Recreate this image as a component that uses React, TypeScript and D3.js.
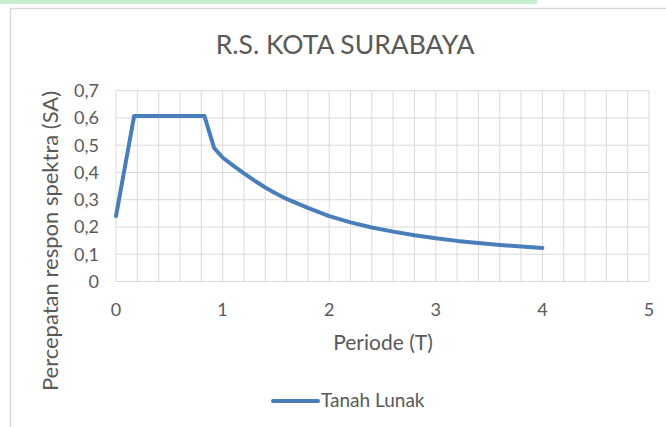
import React from "react";
import * as d3 from "d3";

const periods = [0, 0.17, 0.83, 0.92, 1.0, 1.1, 1.2, 1.3, 1.4, 1.5, 1.6, 1.8, 2.0, 2.2, 2.4, 2.6, 2.8, 3.0, 3.2, 3.4, 3.6, 3.8, 4.0];
const saValues = [0.24, 0.607, 0.607, 0.49, 0.455, 0.425, 0.397, 0.37, 0.345, 0.323, 0.303, 0.27, 0.24, 0.217, 0.198, 0.183, 0.17, 0.159, 0.149, 0.141, 0.134, 0.128, 0.123];
const xTicks = [0, 1, 2, 3, 4, 5];
const yTicks = [0, 0.1, 0.2, 0.3, 0.4, 0.5, 0.6, 0.7];
const xGrid = d3.range(0, 26).map((i) => i * 0.2);
const title = "R.S. KOTA SURABAYA";
const xTitle = "Periode (T)";
const yTitle = "Percepatan respon spektra (SA)";
const seriesName = "Tanah Lunak";

const W = 666;
const H = 427;
const font = "Lato, 'Open Sans', sans-serif";
const textColor = "#595959";
const gridColor = "#d9d9d9";
const lineColor = "#4a7ebb";

export default function App() {
  const x = d3.scaleLinear().domain([0, 5]).range([116, 649]);
  const y = d3.scaleLinear().domain([0, 0.7]).range([281.5, 90.7]);
  const pts = periods.map((p, i) => [p, saValues[i]] as [number, number]);
  const line = d3
    .line<[number, number]>()
    .x((d) => x(d[0]))
    .y((d) => y(d[1]));
  const fmt = (v: number) => (v === 0 ? "0" : v.toFixed(1).replace(".", ","));

  return (
    <svg
      width={W}
      height={H}
      style={{ position: "absolute", left: 0, top: 0, background: "#fff" }}
    >
      <rect x={0} y={0} width={W} height={H} fill="#fff" />
      <rect x={0} y={0} width={537} height={4} fill="#c6efce" />
      <rect x={10.5} y={8.5} width={W} height={H} fill="#fff" stroke={gridColor} strokeWidth={1.5} />
      <text x={345} y={54} textAnchor="middle" fontFamily={font} fontSize={26.5} fill={textColor}>
        {title}
      </text>
      {xGrid.map((g) => (
        <line key={"vx" + g} x1={x(g)} x2={x(g)} y1={y(0)} y2={y(0.7)} stroke={gridColor} strokeWidth={1} />
      ))}
      {yTicks.map((t) => (
        <line key={"hy" + t} x1={x(0)} x2={x(5)} y1={y(t)} y2={y(t)} stroke={gridColor} strokeWidth={1} />
      ))}
      {yTicks.map((t) => (
        <text key={"yl" + t} x={99} y={y(t)} dy="0.36em" textAnchor="end" fontFamily={font} fontSize={18} fill={textColor}>
          {fmt(t)}
        </text>
      ))}
      {xTicks.map((t) => (
        <text key={"xl" + t} x={x(t)} y={316} textAnchor="middle" fontFamily={font} fontSize={18} fill={textColor}>
          {t}
        </text>
      ))}
      <path d={line(pts) || ""} fill="none" stroke={lineColor} strokeWidth={4} strokeLinejoin="round" strokeLinecap="round" />
      <text x={383} y={350} textAnchor="middle" fontFamily={font} fontSize={21} fill={textColor}>
        {xTitle}
      </text>
      <text
        transform={`translate(58, 241) rotate(-90)`}
        textAnchor="middle"
        fontFamily={font}
        fontSize={22}
        fill={textColor}
      >
        {yTitle}
      </text>
      <line x1={273} x2={318} y1={401} y2={401} stroke={lineColor} strokeWidth={4} strokeLinecap="round" />
      <text x={321} y={407} fontFamily={font} fontSize={19} fill={textColor}>
        {seriesName}
      </text>
    </svg>
  );
}
